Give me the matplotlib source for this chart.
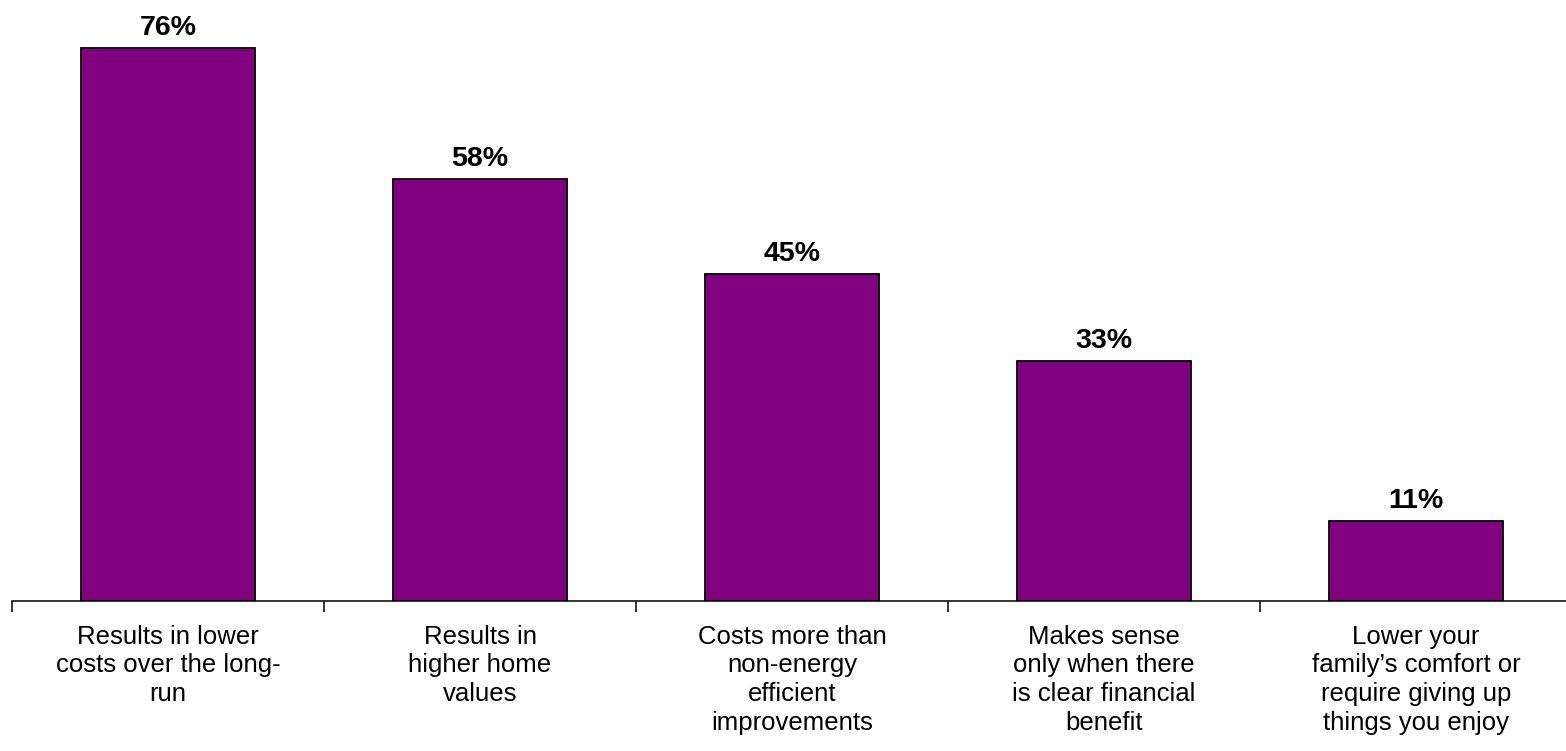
import numpy as np
import matplotlib.pyplot as plt

categories = [
    "Results in lower\ncosts over the long-\nrun",
    "Results in\nhigher home\nvalues",
    "Costs more than\nnon-energy\nefficient\nimprovements",
    "Makes sense\nonly when there\nis clear financial\nbenefit",
    "Lower your\nfamily\u2019s comfort or\nrequire giving up\nthings you enjoy",
]
values = [76, 58, 45, 33, 11]

plt.rcParams['font.family'] = ['Liberation Sans', 'DejaVu Sans']

fig = plt.figure(figsize=(15.66, 7.51), dpi=100)
# axes run slightly past the right edge so the last category keeps full width
ax = fig.add_axes([12 / 1566, 150 / 751, 1560 / 1566, 601 / 751])

x = np.arange(len(values))
bars = ax.bar(x, values, width=0.56, color='#800080', edgecolor='black', linewidth=1.3)
ax.bar_label(bars, labels=[f"{v}%" for v in values], padding=5,
             fontsize=20.5, fontweight='bold')

ax.set_xlim(-0.5, len(values) - 0.5)
ax.set_ylim(0, 82.6)

ax.set_xticks(x)
ax.set_xticklabels(categories, fontsize=18.5, linespacing=1.25)
ax.tick_params(axis='x', which='major', length=0, pad=17)
ax.set_xticks(np.arange(len(values) + 1) - 0.5, minor=True)
ax.tick_params(axis='x', which='minor', length=8, width=1.1, color='black')

ax.set_yticks([])
for side in ['top', 'right', 'left']:
    ax.spines[side].set_visible(False)
ax.spines['bottom'].set_linewidth(1.1)

fig.savefig('out.png', dpi=100)
